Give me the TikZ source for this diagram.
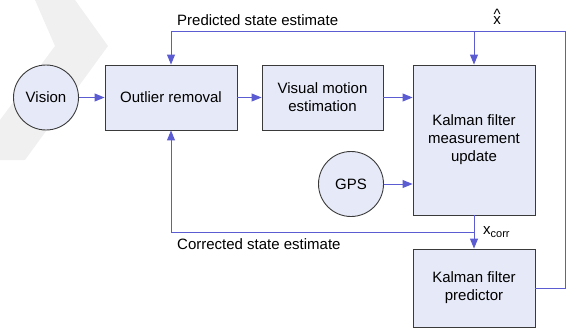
\documentclass[tikz,border=0pt]{standalone}
\usepackage{fontspec}
\setmainfont{Liberation Sans}
\usetikzlibrary{arrows.meta}
\definecolor{boxfill}{HTML}{E6E9F7}
\definecolor{edgecol}{HTML}{5B5BD2}
\definecolor{framecol}{HTML}{3A3A3A}
\definecolor{wmark}{HTML}{F0F0F0}
\begin{document}
\begin{tikzpicture}[x=1pt,y=-1pt,
  every node/.style={font=\fontsize{15}{18}\selectfont},
  blk/.style={draw=framecol,fill=boxfill,line width=0.9pt,align=center,inner sep=2pt},
  src/.style={circle,draw=framecol,fill=boxfill,line width=0.9pt,minimum size=65pt,inner sep=0pt},
  conn/.style={draw=edgecol,line width=1pt,-{Triangle[length=10pt,width=8pt]}},
  line/.style={draw=edgecol,line width=1pt},
  lbl/.style={inner sep=0pt}]
\useasboundingbox (0,0) rectangle (570,329);
% faint watermark
\fill[wmark] (35,0) -- (75,0) -- (108,46) -- (25,160) -- (0,160) -- (0,120) -- (55,46) -- cycle;

\node[src] (vision) at (46,97.5) {Vision};
\node[blk,minimum width=132pt,minimum height=65pt] (outlier) at (171,97.5) {Outlier removal};
\node[blk,minimum width=121pt,minimum height=65pt] (visual) at (322.5,97.5) {Visual motion\\estimation};
\node[blk,minimum width=122pt,minimum height=150pt] (kmu) at (474,140) {Kalman filter\\measurement\\update};
\node[src] (gps) at (351,184) {GPS};
\node[blk,minimum width=122pt,minimum height=78pt] (kp) at (474,288) {Kalman filter\\predictor};

\coordinate (tr) at (565,32);
\coordinate (br) at (565,288);
\coordinate (bl) at (474,232);

\draw[conn] (vision) -- (outlier);
\draw[conn] (outlier) -- (visual);
\draw[conn] (visual.east) -- (visual.east -| kmu.west);
\draw[conn] (gps.east) -- (gps.east -| kmu.west);
\draw[conn] (kmu.south) -- (kp.north);
\draw[line] (kp.east) -- (br) -- (tr) -- (tr -| outlier.north);
\draw[conn] (tr -| outlier.north) -- (outlier.north);
\draw[conn] (tr -| kmu.north) -- (kmu.north);
\draw[line] (bl) -- (bl -| outlier.south);
\draw[conn] (bl -| outlier.south) -- (outlier.south);

\node[lbl,anchor=base west] (pred) at (177,25.5) {Predicted state estimate};
\node[lbl,anchor=base west] (corr) at (177,249) {Corrected state estimate};
\node[lbl,anchor=base] (xhat) at (497,25) {\rlap{\raisebox{5pt}{\kern0.3pt\textasciicircum}}x};
\node[lbl,anchor=base west] (xcorr) at (483,234) {x\raisebox{-3pt}{\fontsize{11}{13}\selectfont corr}};
\end{tikzpicture}
\end{document}
